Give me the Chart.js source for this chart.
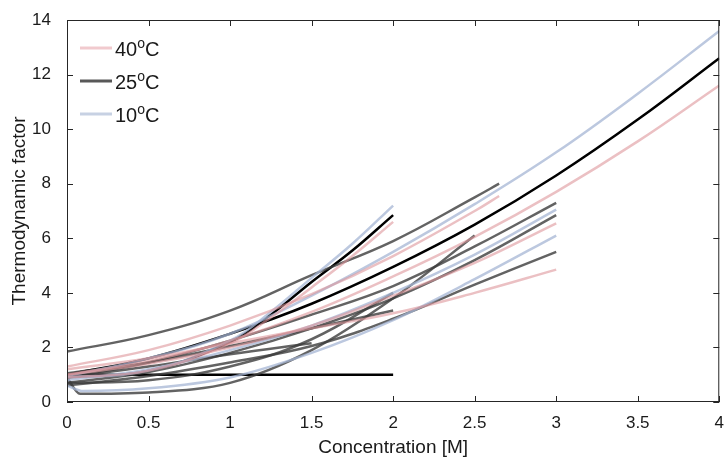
<!DOCTYPE html>
<html lang="en">
  <head>
    <meta charset="UTF-8" />
    <title>Thermodynamic factor vs concentration</title>
    <script src="https://cdn.jsdelivr.net/npm/chart.js"></script>
    <style>
      body { margin: 0; background: #fff; }
      #wrap { width: 727px; height: 459px; }
    </style>
  </head>
  <body>
    <div id="wrap"><canvas id="tfChart" width="727" height="459"></canvas></div>
    <script>
// x grids (M)
const xTo4 = [0, 0.5, 1, 1.5, 2, 2.5, 3, 3.5, 4];
const xTo3 = [0, 0.5, 1, 1.5, 2, 2.5, 3];
const xTo265 = [0, 0.5, 1, 1.5, 2, 2.5, 2.65];
const xTo2 = [0, 0.5, 1, 1.5, 2];
const xSteep = [0, 0.5, 1, 1.25, 1.5, 1.75, 2];
const xTo15 = [0, 0.5, 1, 1.5];
const xDipTo25 = [0, 0.08, 0.5, 1, 1.5, 2, 2.5];
const xDipTo3 = [0, 0.1, 0.5, 1, 1.5, 2, 2.5, 3];
const xFlat = [0, 2];

// thermodynamic factor readings
const pinkLong = [1.0, 1.5, 2.25, 3.3, 4.6, 6.05, 7.7, 9.55, 11.6];
const blueLong = [0.95, 1.6, 2.5, 3.9, 5.5, 7.25, 9.15, 11.3, 13.6];
const blackLong = [1.0, 1.6, 2.5, 3.6, 4.95, 6.5, 8.3, 10.35, 12.6];

const pinkSteep = [0.9, 1.15, 2.15, 3.1, 4.2, 5.35, 6.6];
const blueSteep = [0.9, 1.15, 2.25, 3.3, 4.55, 5.8, 7.2];
const blackSteep = [0.9, 1.15, 2.2, 3.2, 4.4, 5.55, 6.85];

const grayTop = [1.85, 2.45, 3.35, 4.65, 5.9, 7.5, 8.0];
const pinkTop = [1.3, 1.9, 2.8, 3.95, 5.35, 7.0, 7.55];

const grayA3 = [0.9, 1.45, 2.25, 3.2, 4.25, 5.7, 7.3];
const blueA3 = [0.8, 1.2, 1.9, 2.8, 4.0, 5.4, 7.05];
const grayB3 = [0.7, 1.1, 1.8, 2.7, 3.8, 5.2, 6.85];
const pinkA3 = [1.0, 1.4, 2.0, 2.8, 3.9, 5.1, 6.55];
const grayC3 = [0.6, 0.95, 1.45, 2.05, 3.05, 4.3, 5.5];
const pinkB3 = [1.2, 1.6, 2.15, 2.7, 3.25, 4.0, 4.85];
const blueB3 = [0.6, 0.4, 0.5, 0.9, 1.8, 3.0, 4.5, 6.1];

const grayDip = [0.9, 0.3, 0.35, 0.7, 1.9, 3.8, 6.1];
const grayD2 = [0.7, 0.8, 1.3, 2.3, 4.0];
const grayE2 = [1.05, 1.45, 2.05, 2.7, 3.35];
const grayShort = [0.9, 1.3, 1.75, 2.15];
const blackFlat = [1.0, 1.0];

const legendLabels = ['40', '25', '10'];

const PINK = 'rgba(222, 150, 155, 0.6)';
const BLUE = 'rgba(165, 182, 212, 0.75)';
const GRAY = 'rgba(60, 60, 60, 0.8)';
const BLACK = '#000';

function pts(xs, ys) {
  return xs.map((x, i) => ({ x: x, y: ys[i] }));
}

function line(xs, ys, color, dips) {
  return {
    data: pts(xs, ys),
    borderColor: color,
    borderWidth: 2.5,
    pointRadius: 0,
    fill: false,
    tension: 0.4,
    cubicInterpolationMode: dips ? 'monotone' : 'default'
  };
}

const datasets = [
  line(xTo4, pinkLong, PINK),
  line(xSteep, pinkSteep, PINK),
  line(xTo265, pinkTop, PINK),
  line(xTo3, pinkA3, PINK),
  line(xTo3, pinkB3, PINK),
  line(xTo4, blueLong, BLUE),
  line(xSteep, blueSteep, BLUE),
  line(xTo3, blueA3, BLUE),
  line(xDipTo3, blueB3, BLUE, true),
  line(xTo265, grayTop, GRAY),
  line(xTo3, grayA3, GRAY),
  line(xTo3, grayB3, GRAY),
  line(xTo3, grayC3, GRAY),
  line(xDipTo25, grayDip, GRAY, true),
  line(xTo2, grayD2, GRAY),
  line(xTo2, grayE2, GRAY),
  line(xTo15, grayShort, GRAY),
  line(xFlat, blackFlat, BLACK),
  line(xSteep, blackSteep, BLACK),
  line(xTo4, blackLong, BLACK)
];

const FONT = '"Liberation Sans", Arial, sans-serif';
const TXT = '#1a1a1a';

// MATLAB-ish box with inward ticks, plus the legend in the corner
Chart.register({
  id: 'boxAndLegend',
  afterDraw(chart) {
    const { ctx, chartArea: { top, bottom, left, right }, scales: { x, y } } = chart;
    ctx.save();
    ctx.strokeStyle = '#262626';
    ctx.lineWidth = 1;
    ctx.strokeRect(left + 0.5, top + 0.5, right - left - 1, bottom - top - 1);
    ctx.beginPath();
    for (let v = 0; v <= 4.001; v += 0.5) {
      const px = Math.round(x.getPixelForValue(v)) + 0.5;
      ctx.moveTo(px, bottom); ctx.lineTo(px, bottom - 6);
      ctx.moveTo(px, top); ctx.lineTo(px, top + 6);
    }
    for (let v = 0; v <= 14; v += 2) {
      const py = Math.round(y.getPixelForValue(v)) + 0.5;
      ctx.moveTo(left, py); ctx.lineTo(left + 6, py);
      ctx.moveTo(right, py); ctx.lineTo(right - 6, py);
    }
    ctx.stroke();

    const cols = [
      'rgba(235, 180, 185, 0.7)',
      'rgba(70, 70, 70, 0.9)',
      'rgba(185, 198, 220, 0.8)'
    ];
    ctx.textBaseline = 'alphabetic';
    legendLabels.forEach((lab, i) => {
      const cy = 48 + i * 33;
      ctx.strokeStyle = cols[i];
      ctx.lineWidth = 3;
      ctx.beginPath();
      ctx.moveTo(80, cy); ctx.lineTo(112, cy);
      ctx.stroke();
      ctx.fillStyle = TXT;
      ctx.font = '20px ' + FONT;
      let tx = 115;
      const base = cy + 8;
      ctx.fillText(lab, tx, base);
      tx += ctx.measureText(lab).width;
      ctx.font = '14px ' + FONT;
      ctx.fillText('o', tx, base - 8);
      tx += ctx.measureText('o').width;
      ctx.font = '20px ' + FONT;
      ctx.fillText('C', tx, base);
    });
    ctx.restore();
  }
});

new Chart(document.getElementById('tfChart'), {
  type: 'line',
  data: { datasets: datasets },
  options: {
    responsive: false,
    animation: false,
    layout: { padding: { top: 20, right: 4, left: 0, bottom: 0 } },
    plugins: { legend: { display: false }, tooltip: { enabled: false } },
    scales: {
      x: {
        type: 'linear',
        min: 0,
        max: 4,
        grid: { display: false },
        border: { display: false },
        ticks: {
          stepSize: 0.5,
          color: TXT,
          font: { family: FONT, size: 17 },
          padding: 3,
          maxRotation: 0,
          callback: v => String(v)
        },
        title: {
          display: true,
          text: 'Concentration [M]',
          color: TXT,
          font: { family: FONT, size: 19 },
          padding: { top: 0, bottom: 0 }
        },
        afterFit(scale) { scale.height = 57; }
      },
      y: {
        min: 0,
        max: 14,
        grid: { display: false },
        border: { display: false },
        ticks: {
          stepSize: 2,
          color: TXT,
          font: { family: FONT, size: 17 },
          padding: 8
        },
        title: {
          display: true,
          text: 'Thermodynamic factor',
          color: TXT,
          font: { family: FONT, size: 19 },
          padding: { top: 8, bottom: 0 }
        },
        afterFit(scale) { scale.width = 67; }
      }
    }
  }
});
    </script>
  </body>
</html>
